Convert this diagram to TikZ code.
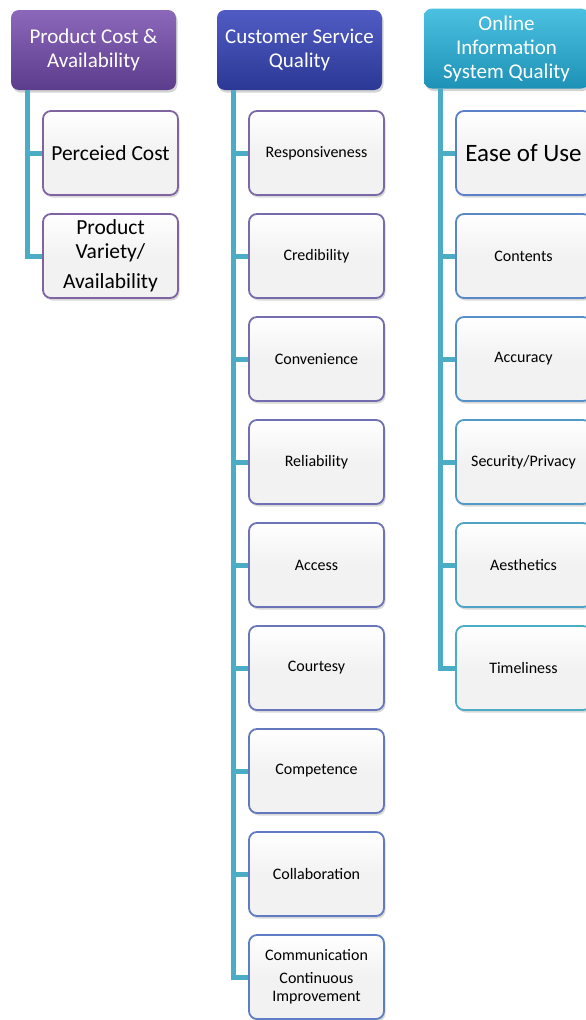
\documentclass[tikz,border=0pt]{standalone}
\usepackage{fontspec}
\setmainfont{Carlito}
\usetikzlibrary{calc,shadows}
\definecolor{pcpurple}{HTML}{8064A2}
\definecolor{csblue}{HTML}{5B7FC8}
\definecolor{oiteal}{HTML}{4BACC6}
\definecolor{boxgray}{HTML}{F2F2F2}
\tikzset{
  hdr/.style={rounded corners=8pt,minimum width=165pt,minimum height=80pt,
    text=white,align=center,font=\fontsize{21}{24}\selectfont,
    drop shadow={shadow xshift=1.5pt,shadow yshift=-2.5pt,opacity=.35}},
  item/.style={draw=#1,line width=1.8pt,rounded corners=8pt,
    top color=white,bottom color=boxgray,middle color=boxgray,
    minimum width=135pt,minimum height=84pt,align=center,
    font=\fontsize{16}{18}\selectfont,
    drop shadow={shadow xshift=1.5pt,shadow yshift=-2.5pt,opacity=.3}},
  trunk/.style={draw=oiteal,line width=5pt},
}
\begin{document}
\begin{tikzpicture}[x=1pt,y=-1pt]
\useasboundingbox (0,0) rectangle (586,1020);
\clip (0,0) rectangle (586,1020);
% headers
\node[hdr,top color={rgb,255:red,140;green,104;blue,186},bottom color={rgb,255:red,92;green,60;blue,140}] (pchdr) at (93.5,50) {Product Cost \&\\Availability};
\node[hdr,top color={rgb,255:red,80;green,92;blue,196},bottom color={rgb,255:red,44;green,56;blue,148}] (cshdr) at (299.5,50) {Customer Service\\Quality};
\node[hdr,top color={rgb,255:red,76;green,192;blue,224},bottom color={rgb,255:red,30;green,146;blue,182}] (oihdr) at (506.5,48.5) {Online\\Information\\System Quality};
\coordinate (pctrunk) at ($(pchdr.south west)+(17,0)$);
\coordinate (cstrunk) at ($(cshdr.south west)+(17,0)$);
\coordinate (oitrunk) at ($(oihdr.south west)+(17,0)$);
% product cost
\node[item=pcpurple,font=\fontsize{21.5}{24}\selectfont] (pc0) at (110.5,153) {Perceied Cost};
\node[item=pcpurple,font=\fontsize{21.5}{24}\selectfont] (pc1) at (110.5,256) {Product\\Variety/\\[6pt]Availability};
% customer service
\foreach \t [count=\k from 0] in {Responsiveness,Credibility,Convenience,Reliability,Access,Courtesy,Competence,Collaboration,{Communication\\[5pt]Continuous\\Improvement}}{
  \pgfmathsetmacro\p{85-10*\k}
  \node[item=pcpurple!\p!csblue] (cs\k) at (316.5,153+103*\k) {\t};
}
% online information system
\node[item=csblue,font=\fontsize{25}{28}\selectfont] (oi0) at (523.5,153) {Ease of Use};
\foreach \t [count=\k from 1] in {Contents,Accuracy,Security/Privacy,Aesthetics,Timeliness}{
  \pgfmathsetmacro\p{100-20*\k}
  \node[item=csblue!\p!oiteal] (oi\k) at (523.5,153+103*\k) {\t};
}
% connectors
\draw[trunk] (pctrunk) |- (pc1.west);
\draw[trunk] (pc0.west) -- (pc0.west -| pctrunk);
\draw[trunk] (cstrunk) |- (cs8.west);
\foreach \k in {0,...,7}{\draw[trunk] (cs\k.west) -- (cs\k.west -| cstrunk);}
\draw[trunk] (oitrunk) |- (oi5.west);
\foreach \k in {0,...,4}{\draw[trunk] (oi\k.west) -- (oi\k.west -| oitrunk);}
\end{tikzpicture}
\end{document}
